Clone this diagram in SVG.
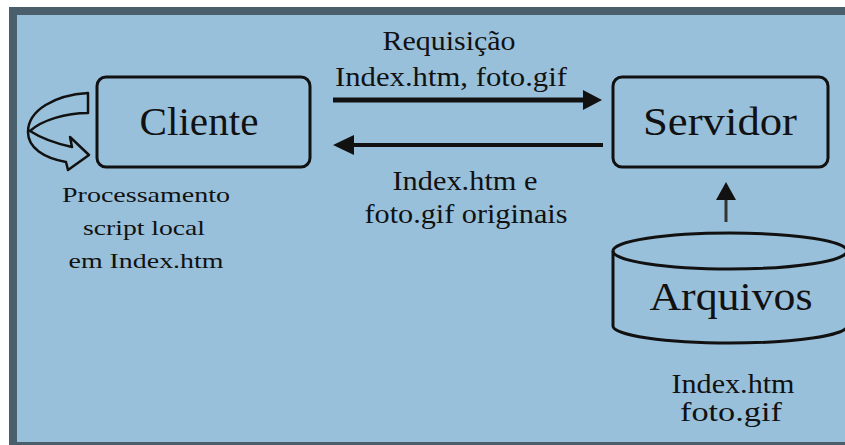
<svg xmlns="http://www.w3.org/2000/svg" width="845" height="445" viewBox="0 0 845 445">
<style>
  text { font-family: "Liberation Serif", Tinos, "Times New Roman", Times, "Nimbus Roman", "Nimbus Roman No9 L", FreeSerif, serif; fill: #111; text-anchor: middle; }
  .big { font-size: 41px; }
  .sm { font-size: 28px; }
  .xs { font-size: 21px; }
  .box { fill: none; stroke: #111; stroke-width: 3; }
</style>
<rect x="0" y="0" width="845" height="445" fill="#ffffff"/>
<rect x="9" y="7" width="836" height="438" fill="#99C0DA"/>
<rect x="9" y="7" width="836" height="8" fill="#4A5E6C"/>
<rect x="9" y="7" width="8" height="438" fill="#4A5E6C"/>
<rect x="9" y="442" width="836" height="3" fill="#4A5E6C"/>

<g id="connectors">
  <line x1="333" y1="100" x2="586" y2="100" stroke="#111" stroke-width="5"/>
  <polygon points="602,100 583,90 583,110" fill="#111"/>
  <line x1="603" y1="145" x2="350" y2="145" stroke="#111" stroke-width="4"/>
  <polygon points="333,145 354,135 354,155" fill="#111"/>
  <line x1="726" y1="222" x2="726" y2="198" stroke="#333" stroke-width="3"/>
  <polygon points="726,182 716,200 736,200" fill="#111"/>
  <path d="M88,93 L88,113 C66,113 42,120 30,131 C44,140 58,144 72,147 L70,137 L89,155 L68,170 L66,162 C44,158 28,148 28,132 C28,110 55,95 88,93 Z" fill="none" stroke="#111" stroke-width="2.5" stroke-linejoin="round"/>
</g>

<g id="cliente">
  <rect class="box" x="97" y="77" width="213" height="90" rx="9"/>
  <text class="big" x="199" y="135" textLength="119" lengthAdjust="spacingAndGlyphs">Cliente</text>
</g>

<g id="servidor">
  <rect class="box" x="613" y="77" width="215" height="90" rx="9"/>
  <text class="big" x="720" y="135" textLength="154" lengthAdjust="spacingAndGlyphs">Servidor</text>
</g>

<g id="arquivos">
  <path class="box" d="M613,251 L613,326 A117,17 0 0 0 847,326 L847,251"/>
  <ellipse class="box" cx="730" cy="251" rx="117" ry="18"/>
  <text class="big" x="731" y="310" textLength="163" lengthAdjust="spacingAndGlyphs">Arquivos</text>
</g>

<g id="labels">
  <text class="sm" x="449" y="50" textLength="133" lengthAdjust="spacingAndGlyphs">Requisição</text>
  <text class="sm" x="451" y="86" textLength="232" lengthAdjust="spacingAndGlyphs">Index.htm, foto.gif</text>
  <text class="sm" x="465" y="190" textLength="145" lengthAdjust="spacingAndGlyphs">Index.htm e</text>
  <text class="sm" x="466" y="223" textLength="203" lengthAdjust="spacingAndGlyphs">foto.gif originais</text>
  <text class="xs" x="146" y="202" textLength="168" lengthAdjust="spacingAndGlyphs">Processamento</text>
  <text class="xs" x="144" y="235" textLength="122" lengthAdjust="spacingAndGlyphs">script local</text>
  <text class="xs" x="146" y="268" textLength="155" lengthAdjust="spacingAndGlyphs">em Index.htm</text>
  <text class="sm" x="733" y="393" textLength="123" lengthAdjust="spacingAndGlyphs">Index.htm</text>
  <text class="sm" x="731" y="421" textLength="102" lengthAdjust="spacingAndGlyphs">foto.gif</text>
</g>
</svg>
